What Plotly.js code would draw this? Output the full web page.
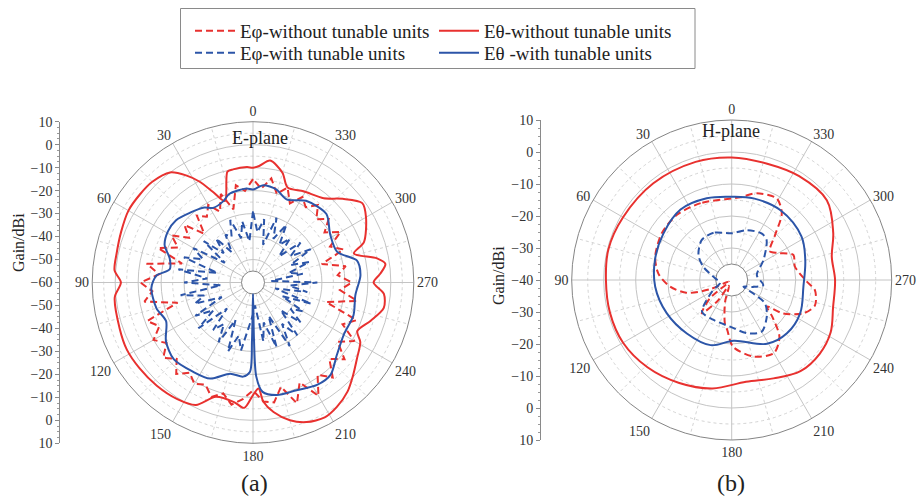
<!DOCTYPE html>
<html>
<head>
<meta charset="utf-8">
<script src="https://cdn.plot.ly/plotly-3.0.1.min.js"></script>
<style>
  html, body { margin: 0; padding: 0; background: #fff; }
  #chart { width: 919px; height: 500px; }
</style>
</head>
<body>
<div id="chart"></div>
<script>
// ---------- angular / radial tick definitions ----------
const angleTicks = [0, 30, 60, 90, 120, 150, 180, 210, 240, 270, 300, 330];
const angleLabels = ['0', '30', '60', '90', '120', '150', '180', '210', '240', '270', '300', '330'];
const angleMinor = [15, 45, 75, 105, 135, 165, 195, 225, 255, 285, 315, 345];

// E-plane radial rings (dB)
const ringsMajorE = [-55, -50, -40, -30, -20, -10, 0];
const ringsMinorE = [-45, -35, -25, -15, -5, 5];
// H-plane radial rings (dB)
const ringsMajorH = [-35, -30, -20, -10, 0];
const ringsMinorH = [-25, -15, -5, 5];

// Side gain scales (mirrored about the pattern centre)
const gainPosE = [-70, -60, -50, -40, -30, -20, -10, 0, 10, 20, 30, 40, 50, 60, 70];
const gainTextE = ['10', '0', '\u221210', '\u221220', '\u221230', '\u221240', '\u221250', '\u221260',
                   '\u221250', '\u221240', '\u221230', '\u221220', '\u221210', '0', '10'];
const gainPosH = [-50, -40, -30, -20, -10, 0, 10, 20, 30, 40, 50];
const gainTextH = ['10', '0', '\u221210', '\u221220', '\u221230', '\u221240',
                   '\u221230', '\u221220', '\u221210', '0', '10'];

// ---------- series names ----------
const nameEphWithout = 'E\u03c6-without tunable units';
const nameEthWithout = 'E\u03b8-without tunable units';
const nameEphWith = 'E\u03c6-with tunable units';
const nameEthWith = 'E\u03b8 -with tunable units';

// ---------- E-plane data ----------
// E-theta, without tunable units
const thetaEthWithoutE = [0,3,10,13,19,24,28,32,37,45,52,60,69,78,85,90,96,109,118,127,137,147,155,162,171,176,180,183,185,189,195,201,208,214,221,227,234,241,245,252,259,265,270,274,278,281,286,290,300,306,313,320,331,340,345,352,357,360];
const gainEthWithoutE = [-10,-9.7,-10,-10.5,-22.5,-16.6,-10.2,-5,0,2,2.4,2.6,1.5,0.7,0.5,-2.5,0.5,1.4,2.2,1.9,1.4,0.5,-1.2,-7.7,-7.3,-5.3,-11,-13.8,-7.9,-2.9,2.1,5.1,6.5,5.3,2.8,-0.5,-4,-6.6,-9.9,-6.1,-2,-2.8,-7.5,-4.4,-1.8,-5,-14.3,-8.6,-3.2,-1.2,-6.6,-12.1,-14.6,-16,-10.5,-6.4,-9.2,-10];

// E-theta, with tunable units
const thetaEthWithE = [0,4,15,20,28,33,42,51,59,67,74,81,86,93,105,114,124,134,146,156,166,174,178,179,180,181,182,185,192,202,212,220,229,240,252,263,274,282,290,302,313,327,338,346,354,360];
const gainEthWithE = [-19.5,-19,-20.1,-22.3,-23.2,-21.1,-19.1,-16.9,-16.8,-18.2,-22.3,-23.3,-17.8,-15.7,-16.5,-18.6,-14.3,-12,-13.2,-14.2,-19.1,-18.8,-21,-35,-55,-35,-19,-12.2,-9.9,-9.4,-7.4,-7.5,-11.7,-14.4,-14,-15.1,-13.1,-13.8,-21,-20.4,-16.3,-17.6,-21,-18.2,-17.4,-19.5];

// E-phi components, sampled every 5 degrees
const thetaEphE = [0,5,10,15,20,25,30,35,40,45,50,55,60,65,70,75,80,85,90,95,100,105,110,115,120,125,130,135,140,145,150,155,160,165,170,175,180,185,190,195,200,205,210,215,220,225,230,235,240,245,250,255,260,265,270,275,280,285,290,295,300,305,310,315,320,325,330,335,340,345,350,355,360];
const gainEphWithoutE = [-15,-20,-17,-27,-19,-26,-21,-25,-22,-30,-21,-26,-19,-24,-16,-28,-13,-19,-11,-16,-12,-26,-11,-15,-10,-14,-9,-13,-8,-12,-9,-11,-7,-10,-6,-9,-13,-8,-7,-13,-4,-12,-3,-11,-6,-13,-8,-15,-9,-17,-12,-27,-14,-22,-17,-23,-19,-29,-18,-23,-16,-22,-17,-21,-16,-20,-17,-22,-16,-20,-14,-19,-15];
const gainEphWithE = [-29,-42,-33,-40,-31,-38,-36,-44,-35,-42,-32,-45,-30,-36,-28,-44,-27,-40,-30,-46,-28,-38,-33,-45,-31,-39,-29,-44,-33,-38,-30,-42,-28,-36,-30,-41,-46,-50,-34,-42,-30,-44,-28,-38,-30,-43,-33,-40,-35,-46,-33,-50,-36,-44,-32,-52,-38,-44,-34,-42,-31,-40,-33,-44,-35,-40,-31,-39,-30,-43,-32,-38,-29];

// ---------- H-plane data ----------
const thetaEthWithoutH = [0,17,39,60,76,90,105,120,136,153,170,188,203,217,230,242,255,270,283,295,310,327,343,360];
const gainEthWithoutH = [-1.7,-1.4,-1.1,-0.8,-0.3,-0.7,-0.6,-0.8,-2.1,-3.9,-5.6,-7.9,-6.6,-4.3,-4.1,-5,-7.2,-7.7,-7.9,-5,-1.2,-1.3,-2,-1.7];

const thetaEthWithH = [0,17,36,56,75,95,117,140,162,182,209,226,244,265,285,302,325,345,360];
const gainEthWithH = [-14,-13.3,-12.8,-14.2,-15.2,-16,-17.2,-18.2,-18.6,-21,-17.2,-16,-16.2,-17.5,-16.2,-14.3,-13.4,-13.6,-14];

const thetaEphWithoutH = [0,22,40,56,73,85,96,106,113,120,130,138,146,155,163,171,175,181,196,210,220,228,233,237,245,253,263,269,282,292,300,307,316,323,331,344,354,360];
const gainEphWithoutH = [-14.5,-14.1,-13.4,-13.7,-15,-17,-20.6,-25.4,-32.6,-39,-31,-26,-32,-38,-33,-26.3,-24.3,-19.2,-15.1,-13.6,-16.8,-23,-26.2,-20.8,-15.3,-12.8,-13.8,-16.6,-19.8,-19.2,-23.1,-25.1,-20.5,-14,-10.9,-11.8,-14,-14.5];

const thetaEphWithH = [0,21,37,53,65,84,103,120,137,155,178,196,210,224,235,238,241,252,261,281,302,319,327,343,360];
const gainEphWithH = [-25.4,-24.2,-24.4,-27,-30.2,-34.8,-36.3,-33,-26.4,-26.3,-25.4,-22.7,-21.3,-24.2,-27.3,-32,-35.8,-33,-30,-32,-28.3,-23.4,-22.7,-23.7,-25.4];

// ---------- styling ----------
const SERIF = '"Liberation Serif", "Times New Roman", "DejaVu Serif", serif';
const RED = '#E8312F';
const BLUE = '#2C55A8';
const DASH = '7px,4px';
const TXT = '#333333';

const W = 919, H = 500;
const px = v => v / W;
const py = v => 1 - v / H;

// pattern areas (paper fractions)
const domE = { x: [92.2 / W, 413.8 / W], y: [56.7 / H, 378.3 / H] };
const domH = { x: [571.7 / W, 891.7 / W], y: [60 / H, 380 / H] };

function minorLayer(dom, range, hole, rings) {
  return {
    domain: dom, hole: hole, bgcolor: '#ffffff',
    radialaxis: { range: range, autorange: false, tickmode: 'array', tickvals: rings, showticklabels: false,
                  ticks: '', showline: false, gridcolor: '#d4d4d4', griddash: 'dot', gridwidth: 1 },
    angularaxis: { rotation: 90, direction: 'counterclockwise', tickmode: 'array', tickvals: angleMinor,
                   showticklabels: false, ticks: '', showline: false,
                   gridcolor: '#d4d4d4', griddash: 'dot', gridwidth: 1 }
  };
}
function majorLayer(dom, range, hole, rings) {
  return {
    domain: dom, hole: hole, bgcolor: 'rgba(0,0,0,0)',
    radialaxis: { range: range, autorange: false, tickmode: 'array', tickvals: rings, showticklabels: false,
                  ticks: '', showline: false, gridcolor: '#c4c4c4', gridwidth: 1 },
    angularaxis: { rotation: 90, direction: 'counterclockwise', tickmode: 'array',
                   tickvals: angleTicks, ticktext: angleLabels, ticks: '',
                   showline: true, linecolor: '#858585', linewidth: 1,
                   gridcolor: '#c4c4c4', gridwidth: 1,
                   tickfont: { family: SERIF, size: 14, color: TXT } }
  };
}
function dataLayer(dom, range) {
  return {
    domain: dom, hole: 0, bgcolor: 'rgba(0,0,0,0)',
    radialaxis: { range: range, autorange: false, showgrid: false, showticklabels: false, ticks: '', showline: false },
    angularaxis: { rotation: 90, direction: 'counterclockwise', showgrid: false,
                   showticklabels: false, ticks: '', showline: false }
  };
}

function sideAxis(dom, pos, range, vals, text) {
  return {
    domain: dom, anchor: 'free', position: pos, side: 'left', range: range,
    tickmode: 'array', tickvals: vals, ticktext: text,
    ticks: 'outside', ticklen: 4, tickcolor: '#8a8a8a', tickwidth: 1,
    showline: true, linecolor: '#8a8a8a', linewidth: 1,
    showgrid: false, zeroline: false, automargin: false, fixedrange: true,
    tickfont: { family: SERIF, size: 14, color: TXT },
    minor: { tickmode: 'linear', tick0: 0, dtick: 2.5, ticks: 'outside', ticklen: 2,
             tickcolor: '#9a9a9a', showgrid: false }
  };
}

// empty carrier so a grid-only polar layer gets built
const gridCarrier = sp => ({ type: 'scatterpolar', subplot: sp, r: [null], theta: [null],
  mode: 'lines', hoverinfo: 'skip', showlegend: false });

const traces = [
  gridCarrier('polar'), gridCarrier('polar2'), gridCarrier('polar4'), gridCarrier('polar5'),
  // E-plane
  { type: 'scatterpolar', subplot: 'polar3', name: nameEphWithout, legend: 'legend',
    theta: thetaEphE, r: gainEphWithoutE, mode: 'lines',
    line: { color: RED, width: 2, dash: DASH } },
  { type: 'scatterpolar', subplot: 'polar3', name: nameEphWith, legend: 'legend3',
    theta: thetaEphE, r: gainEphWithE, mode: 'lines',
    line: { color: BLUE, width: 2, dash: DASH } },
  { type: 'scatterpolar', subplot: 'polar3', name: nameEthWithout, legend: 'legend2',
    theta: thetaEthWithoutE, r: gainEthWithoutE, mode: 'lines',
    line: { color: RED, width: 2, shape: 'spline', smoothing: 0.8 } },
  { type: 'scatterpolar', subplot: 'polar3', name: nameEthWith, legend: 'legend4',
    theta: thetaEthWithE, r: gainEthWithE, mode: 'lines',
    line: { color: BLUE, width: 2, shape: 'spline', smoothing: 0.8 } },
  // H-plane
  { type: 'scatterpolar', subplot: 'polar6', showlegend: false, name: nameEphWithout,
    theta: thetaEphWithoutH, r: gainEphWithoutH, mode: 'lines',
    line: { color: RED, width: 2, dash: DASH, shape: 'spline', smoothing: 0.8 } },
  { type: 'scatterpolar', subplot: 'polar6', showlegend: false, name: nameEphWith,
    theta: thetaEphWithH, r: gainEphWithH, mode: 'lines',
    line: { color: BLUE, width: 2, dash: DASH, shape: 'spline', smoothing: 0.8 } },
  { type: 'scatterpolar', subplot: 'polar6', showlegend: false, name: nameEthWithout,
    theta: thetaEthWithoutH, r: gainEthWithoutH, mode: 'lines',
    line: { color: RED, width: 2, shape: 'spline', smoothing: 1 } },
  { type: 'scatterpolar', subplot: 'polar6', showlegend: false, name: nameEthWith,
    theta: thetaEthWithH, r: gainEthWithH, mode: 'lines',
    line: { color: BLUE, width: 2, shape: 'spline', smoothing: 1 } },
  // carriers for the side gain scales
  { type: 'scatter', x: [0.5], y: [0], xaxis: 'x', yaxis: 'y', mode: 'markers',
    marker: { opacity: 0 }, hoverinfo: 'skip', showlegend: false },
  { type: 'scatter', x: [0.5], y: [0], xaxis: 'x2', yaxis: 'y2', mode: 'markers',
    marker: { opacity: 0 }, hoverinfo: 'skip', showlegend: false }
];

// one legend entry per block, laid out as a 2 x 2 key
const legendAt = (x, yTop) => ({
  x: px(x), y: py(yTop), orientation: 'v', xanchor: 'left', yanchor: 'top',
  bgcolor: 'rgba(0,0,0,0)', borderwidth: 0, itemwidth: 40, tracegroupgap: 0,
  font: { family: SERIF, size: 19, color: '#222' }
});

const ann = (text, x, y, size, angle) => ({
  text: text, x: px(x), y: py(y), xref: 'paper', yref: 'paper',
  xanchor: 'center', yanchor: 'middle', showarrow: false, textangle: angle || 0,
  font: { family: SERIF, size: size, color: '#222' }
});

const layout = {
  width: W, height: H,
  margin: { l: 0, r: 0, t: 0, b: 0, pad: 0 },
  paper_bgcolor: '#ffffff', plot_bgcolor: 'rgba(0,0,0,0)',
  showlegend: true,
  font: { family: SERIF },
  polar: minorLayer(domE, [-55, 10], 1 / 14, ringsMinorE),
  polar2: majorLayer(domE, [-55, 10], 1 / 14, ringsMajorE),
  polar3: dataLayer(domE, [-60, 10]),
  polar4: minorLayer(domH, [-35, 10], 0.1, ringsMinorH),
  polar5: majorLayer(domH, [-35, 10], 0.1, ringsMajorH),
  polar6: dataLayer(domH, [-40, 10]),
  xaxis: { domain: [px(59.3), px(62)], range: [0, 1], visible: false, anchor: 'y', fixedrange: true },
  yaxis: sideAxis(domE.y, px(59.3), [-70, 70], gainPosE, gainTextE),
  xaxis2: { domain: [px(540), px(543)], range: [0, 1], visible: false, anchor: 'y2', fixedrange: true },
  yaxis2: sideAxis(domH.y, px(540), [-50, 50], gainPosH, gainTextH),
  legend: legendAt(190, 12),
  legend2: legendAt(434, 12),
  legend3: legendAt(190, 34),
  legend4: legendAt(434, 34),
  shapes: [
    { type: 'rect', xref: 'paper', yref: 'paper', x0: px(180.5), x1: px(695), y0: py(8.5), y1: py(68.5),
      line: { color: '#8a8a8a', width: 1 }, fillcolor: 'rgba(0,0,0,0)', layer: 'above' }
  ],
  annotations: [
    ann('Gain/dBi', 18, 243, 16, -90),
    ann('Gain/dBi', 498, 276, 16, -90),
    ann('E-plane', 260, 138, 18),
    ann('H-plane', 731, 131, 18),
    ann('(a)', 254, 483, 24),
    ann('(b)', 731, 483, 24)
  ]
};

Plotly.newPlot('chart', traces, layout, { displayModeBar: false, staticPlot: true });
</script>
</body>
</html>
